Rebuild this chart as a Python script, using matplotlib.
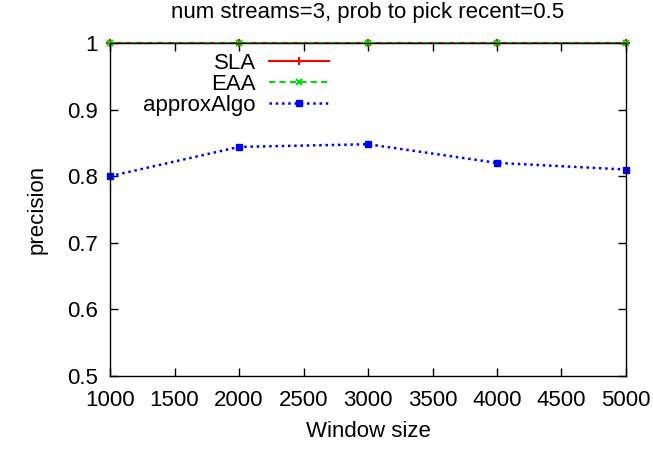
import matplotlib
matplotlib.use("Agg")
import matplotlib.pyplot as plt
from matplotlib.ticker import FormatStrFormatter, MultipleLocator

plt.rcParams['font.family'] = ['Liberation Sans', 'DejaVu Sans']

window_sizes = [1000, 2000, 3000, 4000, 5000]
sla = [1.0, 1.0, 1.0, 1.0, 1.0]
eaa = [1.0, 1.0, 1.0, 1.0, 1.0]
approx_algo = [0.800, 0.844, 0.848, 0.820, 0.810]


def main():
    fig = plt.figure(figsize=(6.53, 4.5), dpi=100)
    ax = fig.add_axes([110 / 653, 74 / 450, 516 / 653, 333 / 450])

    ax.plot(window_sizes, sla, color='#ff0000', linestyle='-', linewidth=1.5,
            marker='+', markersize=6, markeredgewidth=1.5, clip_on=False, label='SLA')
    ax.plot(window_sizes, eaa, color='#00e000', linestyle=(0, (3, 2)), linewidth=1.5,
            marker='x', markersize=5, markeredgewidth=1.5, clip_on=False, label='EAA')
    ax.plot(window_sizes, approx_algo, color='#0000ff', linestyle=(0, (1, 1.5)), linewidth=1.8,
            marker='s', markersize=4.5, clip_on=False, label='approxAlgo')

    ax.set_xlim(1000, 5000)
    ax.set_ylim(0.5, 1.0)
    ax.xaxis.set_major_locator(MultipleLocator(500))
    ax.yaxis.set_major_locator(MultipleLocator(0.1))
    ax.yaxis.set_major_formatter(FormatStrFormatter('%g'))
    ax.tick_params(direction='in', top=True, right=True, length=6, width=1,
                   labelsize=16)
    ax.tick_params(axis='x', pad=10)
    ax.tick_params(axis='y', pad=9)
    for s in ax.spines.values():
        s.set_linewidth(1)

    ax.set_xlabel('Window size', fontsize=16, labelpad=7)
    ax.set_ylabel('precision', fontsize=16, labelpad=14)
    ax.set_title('num streams=3, prob to pick recent=0.5', fontsize=16, pad=18)

    ax.legend(loc='upper right', bbox_to_anchor=(0.425, 0.97), frameon=False,
              markerfirst=False, fontsize=16, handlelength=2.7, handletextpad=0.6,
              labelspacing=0.0, borderpad=0, borderaxespad=0)

    fig.savefig('out.png', dpi=100)


if __name__ == "__main__":
    main()
